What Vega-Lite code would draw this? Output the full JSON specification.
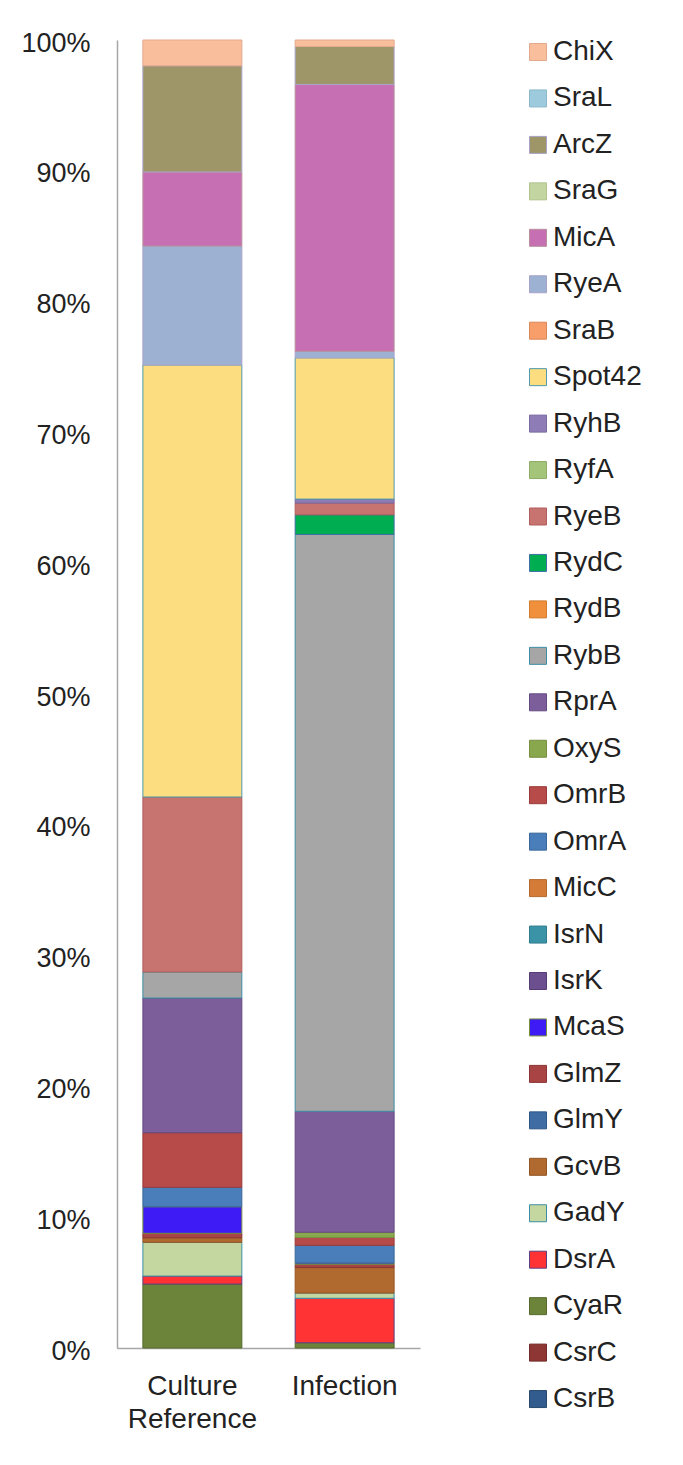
{
  "$schema": "https://vega.github.io/schema/vega-lite/v6.json",
  "autosize": {"type": "none"},
  "padding": {"left": 117, "top": 40, "right": 263, "bottom": 117},
  "width": 303,
  "height": 1308,
  "background": "white",
  "config": {
    "view": {"stroke": null},
    "font": "Liberation Sans"
  },
  "data": {
    "values": [
      {"sample": "Culture Reference", "sRNA": "CyaR", "rank": 3, "pct": 4.89},
      {"sample": "Culture Reference", "sRNA": "DsrA", "rank": 4, "pct": 0.61},
      {"sample": "Culture Reference", "sRNA": "GadY", "rank": 5, "pct": 2.58},
      {"sample": "Culture Reference", "sRNA": "GcvB", "rank": 6, "pct": 0.35},
      {"sample": "Culture Reference", "sRNA": "GlmZ", "rank": 8, "pct": 0.34},
      {"sample": "Culture Reference", "sRNA": "McaS", "rank": 9, "pct": 2.03},
      {"sample": "Culture Reference", "sRNA": "OmrA", "rank": 13, "pct": 1.49},
      {"sample": "Culture Reference", "sRNA": "OmrB", "rank": 14, "pct": 4.17},
      {"sample": "Culture Reference", "sRNA": "RprA", "rank": 16, "pct": 10.3},
      {"sample": "Culture Reference", "sRNA": "RybB", "rank": 17, "pct": 1.99},
      {"sample": "Culture Reference", "sRNA": "RyeB", "rank": 20, "pct": 13.38},
      {"sample": "Culture Reference", "sRNA": "Spot42", "rank": 23, "pct": 33.03},
      {"sample": "Culture Reference", "sRNA": "RyeA", "rank": 25, "pct": 9.1},
      {"sample": "Culture Reference", "sRNA": "MicA", "rank": 26, "pct": 5.66},
      {"sample": "Culture Reference", "sRNA": "ArcZ", "rank": 28, "pct": 8.12},
      {"sample": "Culture Reference", "sRNA": "ChiX", "rank": 30, "pct": 1.97},
      {"sample": "Infection", "sRNA": "CyaR", "rank": 3, "pct": 0.4},
      {"sample": "Infection", "sRNA": "DsrA", "rank": 4, "pct": 3.4},
      {"sample": "Infection", "sRNA": "GadY", "rank": 5, "pct": 0.4},
      {"sample": "Infection", "sRNA": "GcvB", "rank": 6, "pct": 1.95},
      {"sample": "Infection", "sRNA": "GlmZ", "rank": 8, "pct": 0.25},
      {"sample": "Infection", "sRNA": "McaS", "rank": 9, "pct": 0.1},
      {"sample": "Infection", "sRNA": "OmrA", "rank": 13, "pct": 1.35},
      {"sample": "Infection", "sRNA": "OmrB", "rank": 14, "pct": 0.6},
      {"sample": "Infection", "sRNA": "OxyS", "rank": 15, "pct": 0.4},
      {"sample": "Infection", "sRNA": "RprA", "rank": 16, "pct": 9.25},
      {"sample": "Infection", "sRNA": "RybB", "rank": 17, "pct": 44.1},
      {"sample": "Infection", "sRNA": "RydC", "rank": 19, "pct": 1.5},
      {"sample": "Infection", "sRNA": "RyeB", "rank": 20, "pct": 0.9},
      {"sample": "Infection", "sRNA": "RyhB", "rank": 22, "pct": 0.3},
      {"sample": "Infection", "sRNA": "Spot42", "rank": 23, "pct": 10.8},
      {"sample": "Infection", "sRNA": "RyeA", "rank": 25, "pct": 0.5},
      {"sample": "Infection", "sRNA": "MicA", "rank": 26, "pct": 20.4},
      {"sample": "Infection", "sRNA": "ArcZ", "rank": 28, "pct": 2.9},
      {"sample": "Infection", "sRNA": "ChiX", "rank": 30, "pct": 0.5}
    ]
  },
  "mark": {"type": "bar", "strokeWidth": 1},
  "encoding": {
    "x": {
      "field": "sample",
      "type": "nominal",
      "sort": ["Culture Reference", "Infection"],
      "scale": {"paddingInner": 0.35, "paddingOuter": 0.17},
      "axis": {
        "title": null,
        "labelAngle": 0,
        "labelExpr": "split(datum.label, ' ')",
        "labelFontSize": 28,
        "labelColor": "#222",
        "labelPadding": 24,
        "labelLineHeight": 33,
        "ticks": false,
        "domainColor": "#A6A6A6",
        "domainWidth": 1.5
      }
    },
    "y": {
      "field": "pct",
      "type": "quantitative",
      "stack": "normalize",
      "scale": {"domain": [0, 1]},
      "axis": {
        "title": null,
        "values": [0, 0.1, 0.2, 0.3, 0.4, 0.5, 0.6, 0.7, 0.8, 0.9, 1],
        "format": ".0%",
        "labelFontSize": 27,
        "labelColor": "#222",
        "labelPadding": 27,
        "labelOffset": 3,
        "ticks": false,
        "grid": false,
        "domainColor": "#A6A6A6",
        "domainWidth": 1.5
      }
    },
    "order": {"field": "rank", "type": "quantitative", "sort": "ascending"},
    "fill": {
      "field": "sRNA",
      "type": "nominal",
      "scale": {
        "domain": ["ChiX", "SraL", "ArcZ", "SraG", "MicA", "RyeA", "SraB", "Spot42", "RyhB", "RyfA", "RyeB", "RydC", "RydB", "RybB", "RprA", "OxyS", "OmrB", "OmrA", "MicC", "IsrN", "IsrK", "McaS", "GlmZ", "GlmY", "GcvB", "GadY", "DsrA", "CyaR", "CsrC", "CsrB"],
        "range": ["#F9BE9C", "#9DCBDD", "#9E9669", "#C3D5A1", "#C66FB3", "#9DB1D3", "#F79E6B", "#FCDD80", "#8E7CB7", "#A4C47A", "#C77370", "#00AD50", "#F0903C", "#A6A6A6", "#7B5E9A", "#89A84D", "#B74B49", "#4A7EBB", "#D47B37", "#3B93A8", "#6C4F8F", "#3E1AF5", "#A84443", "#3F6CA3", "#B06A30", "#C5D7A0", "#FF3333", "#6C843A", "#8E3634", "#335C8E"]
      },
      "legend": {
        "title": null,
        "orient": "none",
        "legendX": 407,
        "legendY": -2,
        "symbolType": "square",
        "symbolSize": 289,
        "symbolStrokeWidth": 1,
        "labelFontSize": 28,
        "labelColor": "#222",
        "labelOffset": 1,
        "rowPadding": 18.45,
        "labelLimit": 200
      }
    },
    "stroke": {
      "field": "sRNA",
      "type": "nominal",
      "scale": {
        "domain": ["ChiX", "SraL", "ArcZ", "SraG", "MicA", "RyeA", "SraB", "Spot42", "RyhB", "RyfA", "RyeB", "RydC", "RydB", "RybB", "RprA", "OxyS", "OmrB", "OmrA", "MicC", "IsrN", "IsrK", "McaS", "GlmZ", "GlmY", "GcvB", "GadY", "DsrA", "CyaR", "CsrC", "CsrB"],
        "range": ["#E3A98A", "#8AB8CA", "#A9A3C9", "#B0C28E", "#B8909A", "#A8A2C8", "#D98958", "#4F9AAE", "#7A6AA0", "#8FAD66", "#B05F5C", "#3E6FA6", "#D27C30", "#3D8EA5", "#654A82", "#758F3F", "#9A3A38", "#3A6799", "#B46A2D", "#2F7C8E", "#573C75", "#76923C", "#8C3534", "#2F5786", "#945724", "#3D8EA5", "#5E3F80", "#566A2E", "#722A29", "#27486F"]
      },
      "legend": {
        "title": null,
        "orient": "none",
        "legendX": 407,
        "legendY": -2,
        "symbolType": "square",
        "symbolSize": 289,
        "symbolStrokeWidth": 1,
        "labelFontSize": 28,
        "labelColor": "#222",
        "labelOffset": 1,
        "rowPadding": 18.45,
        "labelLimit": 200
      }
    }
  }
}
